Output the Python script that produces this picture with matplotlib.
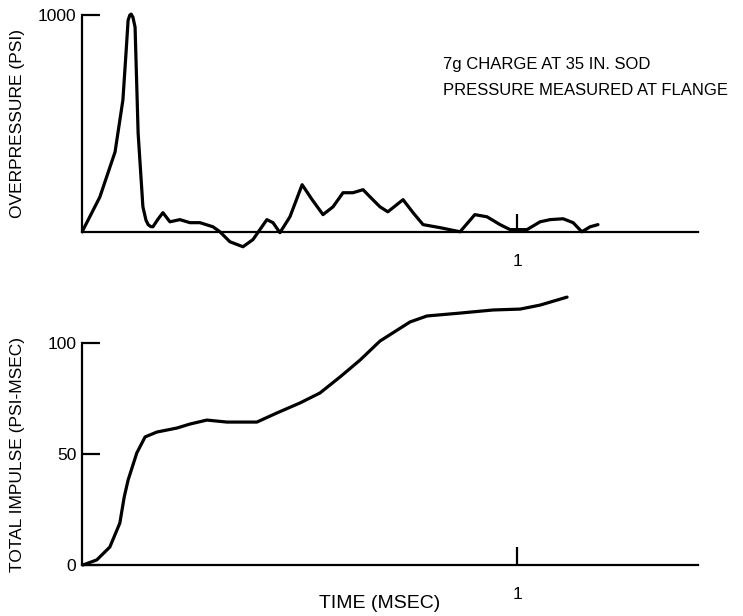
import matplotlib
matplotlib.use("Agg")
import matplotlib.pyplot as plt

plt.rcParams['font.family'] = ['Liberation Sans', 'DejaVu Sans']

# overpressure trace (msec, psi)
t_press = [0.0, 0.041, 0.076, 0.094, 0.102, 0.106, 0.110, 0.113, 0.117, 0.122,
           0.129, 0.140, 0.147, 0.152, 0.158,
           0.163, 0.175, 0.186, 0.202, 0.225, 0.248, 0.271, 0.301, 0.317, 0.340,
           0.370, 0.393, 0.425, 0.439, 0.455, 0.478, 0.506, 0.529, 0.554, 0.577,
           0.600, 0.623, 0.646, 0.662, 0.685, 0.703, 0.738, 0.761, 0.784, 0.823,
           0.869, 0.903, 0.931, 0.961, 0.984, 1.023, 1.053, 1.076, 1.106, 1.129,
           1.149, 1.168, 1.186]
pressure = [0, 161, 369, 608, 850, 976, 1000, 1004, 990, 944,
            456, 116, 55, 34, 25,
            24, 60, 89, 47, 57, 43, 43, 24, 1, -45,
            -68, -35, 57, 43, -3, 70, 218, 149, 80, 116,
            181, 181, 195, 162, 116, 93, 149, 89, 34, 20,
            1, 80, 70, 34, 11, 11, 47, 57, 61, 43,
            1, 24, 34]

# total impulse (msec, psi-msec)
t_imp = [0.002, 0.034, 0.064, 0.087, 0.097, 0.106, 0.126, 0.145, 0.172, 0.218,
         0.248, 0.287, 0.333, 0.402, 0.448, 0.501, 0.547, 0.593, 0.639, 0.685,
         0.754, 0.793, 0.869, 0.945, 1.007, 1.053, 1.115]
impulse = [0, 2.3, 8.1, 18.9, 30.6, 38.3, 50.5, 57.7, 59.9, 61.7,
           63.5, 65.3, 64.4, 64.4, 68.5, 73, 77.5, 84.7, 92.3, 100.9,
           109.5, 112.2, 113.5, 114.9, 115.3, 117.1, 120.7]

W, H = 743, 616
fig = plt.figure(figsize=(W / 100, H / 100), dpi=100)

def px_axes(left, top, right, bottom):
    return fig.add_axes([left / W, 1 - bottom / H, (right - left) / W, (bottom - top) / H])

xmax = 1.416

ax1 = px_axes(82, 10, 698, 255)
ax1.plot(t_press, pressure, color='black', lw=2.3, solid_joinstyle='round', solid_capstyle='round')
ax1.set_xlim(0, xmax)
ax1.set_ylim(-106, 1023)
ax1.set_yticks([1000])
ax1.set_yticklabels(['1000'])
ax1.text(0.586, 0.776, '7g CHARGE AT 35 IN. SOD', transform=ax1.transAxes,
         fontsize=12, va='center')
ax1.text(0.586, 0.673, 'PRESSURE MEASURED AT FLANGE', transform=ax1.transAxes,
         fontsize=12, va='center')

ax2 = px_axes(82, 290, 698, 575)
ax2.plot(t_imp, impulse, color='black', lw=2.3, solid_joinstyle='round', solid_capstyle='round')
ax2.set_xlim(0, xmax)
ax2.set_ylim(-4.5, 123.9)
ax2.set_yticks([0, 50, 100])

fig.text(18 / W, 1 - 123 / H, 'OVERPRESSURE (PSI)', fontsize=12.5,
         rotation=90, ha='center', va='center')
fig.text(18 / W, 1 - 455 / H, 'TOTAL IMPULSE (PSI-MSEC)', fontsize=12.5,
         rotation=90, ha='center', va='center')
fig.text(380 / W, 1 - 604 / H, 'TIME (MSEC)', fontsize=14, ha='center', va='center')

for ax, top in ((ax1, 1000), (ax2, 100)):
    ax.spines['top'].set_visible(False)
    ax.spines['right'].set_visible(False)
    ax.spines['bottom'].set_position(('data', 0))
    ax.spines['left'].set_bounds(0, top)
    ax.spines['left'].set_linewidth(1.6)
    ax.spines['bottom'].set_linewidth(1.6)
    ax.set_xticks([1])
    ax.set_xticklabels(['1'])
    ax.tick_params(axis='x', direction='in', length=13, width=1.6, pad=16, labelsize=12.5)
    ax.tick_params(axis='y', direction='in', length=13, width=1.6, pad=4, labelsize=12.5)
    ax.patch.set_alpha(0)

fig.savefig('out.png', dpi=100)
